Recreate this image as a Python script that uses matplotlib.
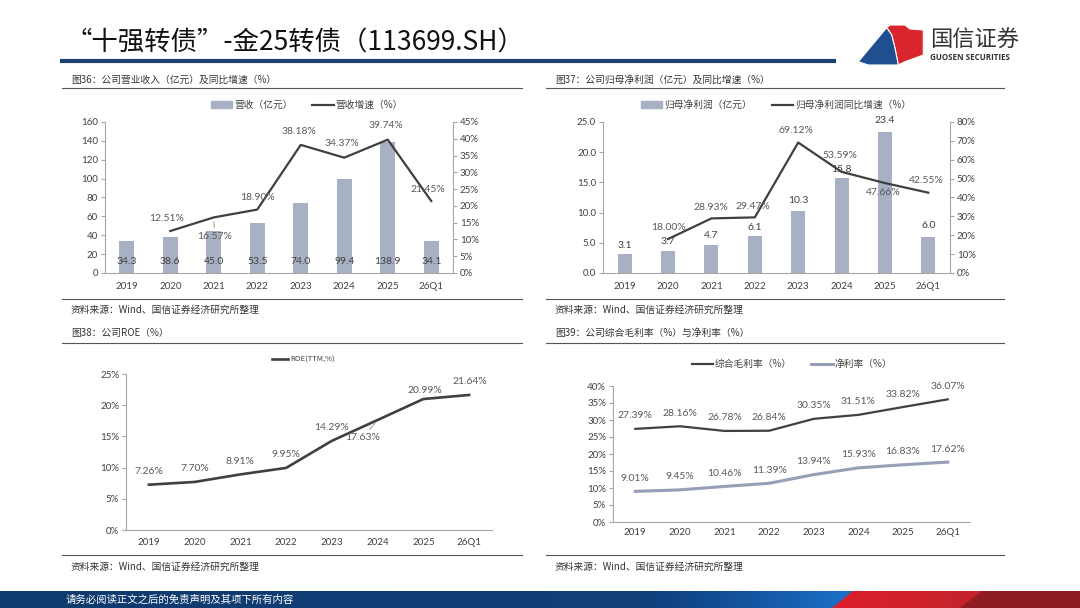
import numpy as np
import matplotlib
matplotlib.use("Agg")
import matplotlib.pyplot as plt
from matplotlib.lines import Line2D
from matplotlib.patches import Patch, Polygon
from matplotlib.colors import LinearSegmentedColormap
from matplotlib.ticker import FuncFormatter, MultipleLocator

plt.rcParams["font.family"] = ["Lato", "Noto Sans CJK SC", "DejaVu Sans"]
CJK = ["Noto Sans CJK SC", "DejaVu Sans"]

W, H = 1080, 608

# data
years = ["2019", "2020", "2021", "2022", "2023", "2024", "2025", "26Q1"]
revenue = [34.3, 38.6, 45.0, 53.5, 74.0, 99.4, 138.9, 34.1]
revenue_growth = [np.nan, 12.51, 16.57, 18.90, 38.18, 34.37, 39.74, 21.45]
profit = [3.1, 3.7, 4.7, 6.1, 10.3, 15.8, 23.4, 6.0]
profit_growth = [np.nan, 18.00, 28.93, 29.47, 69.12, 53.59, 47.66, 42.55]
roe = [7.26, 7.70, 8.91, 9.95, 14.29, 17.63, 20.99, 21.64]
gross_margin = [27.39, 28.16, 26.78, 26.84, 30.35, 31.51, 33.82, 36.07]
net_margin = [9.01, 9.45, 10.46, 11.39, 13.94, 15.93, 16.83, 17.62]

title = "“十强转债”-金25转债（113699.SH）"
panel_titles = ["图36：公司营业收入（亿元）及同比增速（%）",
                "图37：公司归母净利润（亿元）及同比增速（%）",
                "图38：公司ROE（%）",
                "图39：公司综合毛利率（%）与净利率（%）"]
source = "资料来源：Wind、国信证券经济研究所整理"
footer = "请务必阅读正文之后的免责声明及其项下所有内容"

BAR = "#a8b0c3"
LINE = "#404040"
LIGHT = "#959fb5"
AXIS = "#a6a6a6"
TEXT = "#404040"
LABEL = "#595959"
NAVY = "#1d416f"

fig = plt.figure(figsize=(W / 100, H / 100), dpi=100)

# full-figure axes in pixel coordinates for the slide decoration
bg = fig.add_axes([0, 0, 1, 1], zorder=0)
bg.axis("off")


def rect(left, top, right, bottom):
    return [left / W, 1 - bottom / H, (right - left) / W, (bottom - top) / H]


# header
bg.text(66, 43, title, fontsize=19, family=CJK, va="center", color="#111111")
bg.plot([60, 836], [61, 61], color=NAVY, lw=3, solid_capstyle="butt")

# logo
bg.add_patch(Polygon([(886.7, 27.7), (890, 25), (905, 25), (910, 29), (923.3, 30),
                      (923.3, 55), (905, 61.7), (898.3, 65), (895, 48.3), (891.7, 35)],
                     closed=True, fc="#d9262e", ec="white", lw=0.8))
bg.add_patch(Polygon([(858.3, 61.7), (886.7, 27.7), (891.7, 35), (895, 48.3),
                      (898.3, 65), (868.3, 65)],
                     closed=True, fc="#1f4f8f", ec="white", lw=0.8))
bg.text(930, 40, "国信证券", fontsize=16, family=CJK, va="center", color="#333333")
bg.text(930, 58, "GUOSEN SECURITIES", fontsize=5.8, family=["Open Sans", "DejaVu Sans"],
        weight="bold", va="center", color="#333333")

# panel frames
frames = [(62, 522, 80, 88, 299, 310), (546, 1004, 80, 88, 299, 310),
          (62, 522, 333, 343, 555, 567), (546, 1004, 333, 343, 555, 567)]
for (x0, x1, ty, tl, sl, sy), name in zip(frames, panel_titles):
    bg.text(x0 + 9, ty, name, fontsize=7, family=CJK, va="center", color="#333333")
    bg.plot([x0, x1], [tl, tl], color="#555555", lw=0.8)
    bg.plot([x0, x1], [sl, sl], color="#555555", lw=0.8)
    bg.text(x0 + 9, sy, source, fontsize=7, family=CJK, va="center", color="#333333")

# footer bar
blue = LinearSegmentedColormap.from_list("blue", [(0, "#0f3a6d"), (0.6, "#0f3f7a"),
                                                  (0.7, "#1456a2"), (0.78, "#1b6fc4"),
                                                  (1, "#1b6fc4")])
bg.imshow(np.linspace(0, 1, 256)[None, :], cmap=blue, extent=(0, W, 608, 591),
          aspect="auto", zorder=1)
red = LinearSegmentedColormap.from_list("red", ["#dd1f2b", "#b0262c"])
im = bg.imshow(np.linspace(0, 1, 256)[None, :], cmap=red, extent=(832, W, 608, 591),
               aspect="auto", zorder=2)
clip = Polygon([(832, 608), (853, 591), (W, 591), (W, 608)], closed=True,
               fc="none", ec="none")
bg.add_patch(clip)
im.set_clip_path(clip)
bg.add_patch(Polygon([(960, 608), (982, 591), (W, 591), (W, 608)], closed=True,
                     fc="#8f1c22", ec="none", zorder=3))
bg.text(66, 600, footer, fontsize=7.5, family=CJK, va="center", color="white", zorder=4)
bg.set_xlim(0, W)
bg.set_ylim(H, 0)

x = np.arange(len(years))
pct = FuncFormatter(lambda v, p: f"{v:.0f}%")


def style(ax, pad):
    for s in ax.spines.values():
        s.set_visible(False)
    ax.spines["left"].set_visible(True)
    ax.spines["bottom"].set_visible(True)
    ax.spines["left"].set_color(AXIS)
    ax.spines["bottom"].set_color(AXIS)
    ax.set_xlim(-0.5, len(years) - 0.5)
    ax.set_xticks(x, years)
    ax.tick_params(axis="x", length=0, pad=pad, labelsize=7, labelcolor=TEXT)
    ax.tick_params(axis="y", length=3, width=0.8, color=AXIS, labelsize=7,
                   labelcolor=TEXT, pad=2)


def style_right(ax):
    for s in ax.spines.values():
        s.set_visible(False)
    ax.spines["right"].set_visible(True)
    ax.spines["right"].set_color(AXIS)
    ax.tick_params(axis="y", length=3, width=0.8, color=AXIS, labelsize=7,
                   labelcolor=TEXT, pad=2)


def label(ax, xi, yi, text, dy, dx=0, color=LABEL, leader=False):
    arrow = None
    if leader:
        arrow = dict(arrowstyle="-", color="#8c8c8c", lw=0.6, shrinkA=1, shrinkB=3)
    ax.annotate(text, (xi, yi), xytext=(dx, dy), textcoords="offset pixels",
                ha="center", va="center", fontsize=7.5, color=color,
                arrowprops=arrow, zorder=5)


def legend(ax, handles, labels, cx, cy, size):
    ax.legend(handles, labels, loc="center", bbox_to_anchor=(cx / W, 1 - cy / H),
              bbox_transform=fig.transFigure, ncol=len(handles), frameon=False,
              fontsize=size, handlelength=2.2, columnspacing=2.0, handletextpad=0.2,
              labelcolor=TEXT, prop={"family": CJK, "size": size})


# chart 36: revenue
ax1 = fig.add_axes(rect(105, 122, 453, 273))
ax1.bar(x, revenue, width=0.34, color=BAR, zorder=2)
ax1.set_ylim(0, 160)
ax1.yaxis.set_major_locator(MultipleLocator(20))
style(ax1, 6.5)
ax1r = ax1.twinx()
ax1r.plot(x, revenue_growth, color=LINE, lw=1.6)
ax1r.set_ylim(0, 45)
ax1r.yaxis.set_major_locator(MultipleLocator(5))
ax1r.yaxis.set_major_formatter(pct)
style_right(ax1r)
for i, v in enumerate(revenue):
    label(ax1, i, 0, f"{v:.1f}", 11, color=TEXT)
rev_dy = [0, 13, -19, 12, 13, 14, 14, 12]
rev_dx = [0, -4, 1, 0, -2, -2, -2, -3]
for i, v in enumerate(revenue_growth):
    if not np.isnan(v):
        label(ax1r, i, v, f"{v:.2f}%", rev_dy[i], rev_dx[i], leader=rev_dy[i] < 0)
legend(ax1, [Patch(color=BAR), Line2D([], [], color=LINE, lw=1.6)],
       ["营收（亿元）", "营收增速（%）"], 307, 105, 7)

# chart 37: net profit
ax2 = fig.add_axes(rect(603, 122, 950, 273))
ax2.bar(x, profit, width=0.32, color=BAR, zorder=2)
ax2.set_ylim(0, 25)
ax2.yaxis.set_major_locator(MultipleLocator(5))
ax2.yaxis.set_major_formatter(FuncFormatter(lambda v, p: f"{v:.1f}"))
style(ax2, 6.5)
ax2r = ax2.twinx()
ax2r.plot(x, profit_growth, color=LINE, lw=1.6)
ax2r.set_ylim(0, 80)
ax2r.yaxis.set_major_locator(MultipleLocator(10))
ax2r.yaxis.set_major_formatter(pct)
style_right(ax2r)
profit_dy = [9, 9, 9, 9, 10, 8, 11, 11]
for i, v in enumerate(profit):
    label(ax2, i, v, f"{v:.1f}", profit_dy[i], color=TEXT)
pg_dy = [0, 12, 11, 11, 12, 16, -9, 12]
pg_dx = [0, 0, -1, -2, -2, -2, -2, -2]
for i, v in enumerate(profit_growth):
    if not np.isnan(v):
        label(ax2r, i, v, f"{v:.2f}%", pg_dy[i], pg_dx[i])
legend(ax2, [Patch(color=BAR), Line2D([], [], color=LINE, lw=1.6)],
       ["归母净利润（亿元）", "归母净利润同比增速（%）"], 776, 105, 7)

# chart 38: ROE
ax3 = fig.add_axes(rect(126, 374, 492, 530))
ax3.plot(x, roe, color=LINE, lw=1.9)
ax3.set_ylim(0, 25)
ax3.yaxis.set_major_locator(MultipleLocator(5))
ax3.yaxis.set_major_formatter(pct)
style(ax3, 5.5)
roe_dy = [13, 13, 13, 13, 13, -18, 9, 13]
roe_dx = [0, 0, 0, 0, 0, -15, 1, 1]
for i, v in enumerate(roe):
    label(ax3, i, v, f"{v:.2f}%", roe_dy[i], roe_dx[i], leader=roe_dy[i] < 0)
legend(ax3, [Line2D([], [], color=LINE, lw=1.9)], ["ROE(TTM,%)"], 303, 360, 5.5)

# chart 39: margins
ax4 = fig.add_axes(rect(613, 386, 970, 522))
ax4.plot(x, gross_margin, color=LINE, lw=1.6)
ax4.plot(x, net_margin, color=LIGHT, lw=2.2)
ax4.set_ylim(0, 40)
ax4.yaxis.set_major_locator(MultipleLocator(5))
ax4.yaxis.set_major_formatter(pct)
style(ax4, 4.5)
for i, v in enumerate(gross_margin):
    label(ax4, i, v, f"{v:.2f}%", 13)
for i, v in enumerate(net_margin):
    label(ax4, i, v, f"{v:.2f}%", 13)
legend(ax4, [Line2D([], [], color=LINE, lw=1.6), Line2D([], [], color=LIGHT, lw=2.2)],
       ["综合毛利率（%）", "净利率（%）"], 792, 364, 7)

fig.savefig("out.png", dpi=100)
